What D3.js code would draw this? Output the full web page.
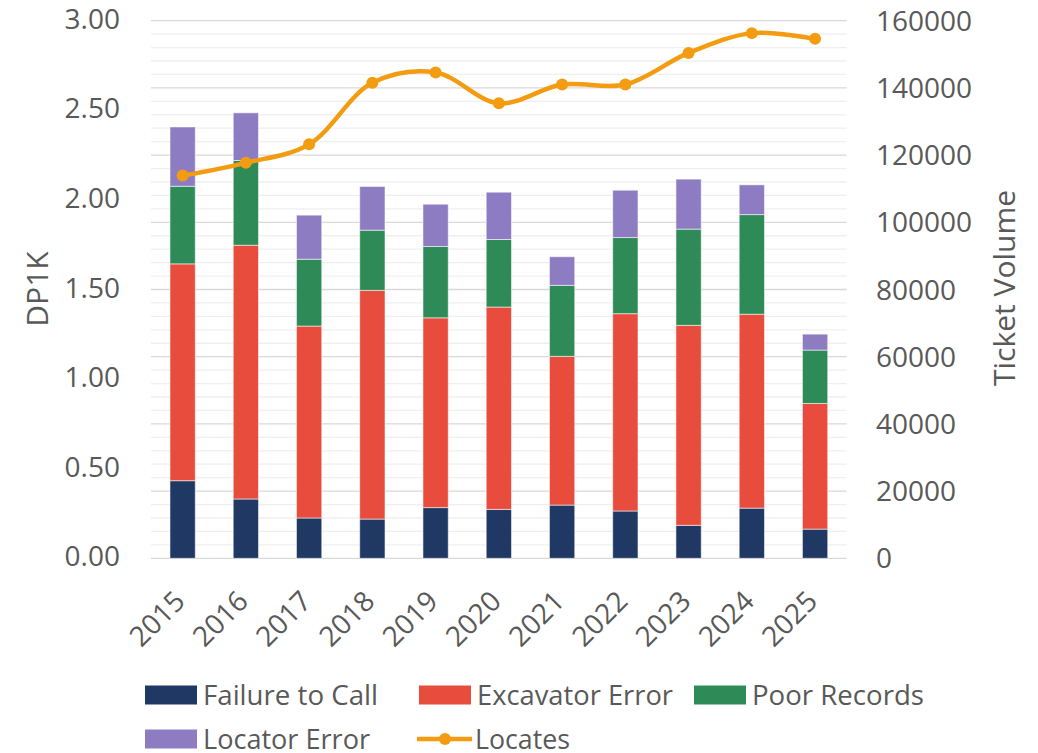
<!DOCTYPE html>
<html>
<head>
<meta charset="utf-8">
<script src="https://cdn.jsdelivr.net/npm/d3@7"></script>
<style>
  body { margin: 0; background: #fff; }
  svg text { font-family: "Open Sans", sans-serif; fill: #595959; }
</style>
</head>
<body>
<svg id="chart" width="1038" height="753"></svg>
<script>
let years = ['2015', '2016', '2017', '2018', '2019', '2020', '2021', '2022', '2023', '2024', '2025']

let failureToCall = [0.433, 0.331, 0.225, 0.219, 0.283, 0.273, 0.297, 0.264, 0.184, 0.280, 0.163]
let excavatorError = [1.210, 1.416, 1.071, 1.276, 1.059, 1.129, 0.830, 1.101, 1.116, 1.082, 0.701]
let poorRecords = [0.433, 0.473, 0.373, 0.336, 0.398, 0.377, 0.396, 0.425, 0.537, 0.556, 0.298]
let locatorError = [0.331, 0.266, 0.246, 0.244, 0.236, 0.264, 0.160, 0.264, 0.279, 0.166, 0.089]

let locates = [113900, 117700, 123200, 141500, 144600, 135400, 141000, 141000, 150400, 156300, 154600]

let seriesNames = ['Failure to Call', 'Excavator Error', 'Poor Records', 'Locator Error']
let seriesColors = ['#203864', '#e74c3c', '#2e8b57', '#8e7cc3']
let lineName = 'Locates'
let lineColor = '#f39c12'

let leftTicks = [0, 0.5, 1, 1.5, 2, 2.5, 3]
let rightTicks = [0, 20000, 40000, 60000, 80000, 100000, 120000, 140000, 160000]

let svg = d3.select('#chart')

let plotLeft = 151, plotRight = 846.7, plotTop = 20.7, plotBottom = 558.3

let xScale = d3.scaleBand()
    .domain(years)
    .range([plotLeft, plotRight])
    .paddingInner(0.6)
    .paddingOuter(0.3)

let yLeft = d3.scaleLinear().domain([0, 3]).range([plotBottom, plotTop])
let yRight = d3.scaleLinear().domain([0, 160000]).range([plotBottom, plotTop])

// gridlines (minor every 4000, major every 20000 on the right axis)
let minor = d3.range(0, 160001, 4000).filter(v => v % 20000 !== 0)
svg.append('g').selectAll('line')
    .data(minor)
    .enter()
    .append('line')
    .attr('x1', plotLeft).attr('x2', plotRight)
    .attr('y1', d => yRight(d)).attr('y2', d => yRight(d))
    .attr('stroke', '#efefef')
    .attr('stroke-width', 1.3)

svg.append('g').selectAll('line')
    .data(rightTicks)
    .enter()
    .append('line')
    .attr('x1', plotLeft).attr('x2', plotRight)
    .attr('y1', d => yRight(d)).attr('y2', d => yRight(d))
    .attr('stroke', '#d9d9d9')
    .attr('stroke-width', 1.3)

// stacked bars
let table = years.map((year, i) => ({
    year: year,
    'Failure to Call': failureToCall[i],
    'Excavator Error': excavatorError[i],
    'Poor Records': poorRecords[i],
    'Locator Error': locatorError[i]
}))

let stacked = d3.stack().keys(seriesNames)(table)

svg.append('g').selectAll('g')
    .data(stacked)
    .enter()
    .append('g')
    .attr('fill', (d, i) => seriesColors[i])
    .selectAll('rect')
    .data(d => d)
    .enter()
    .append('rect')
    .attr('x', d => xScale(d.data.year))
    .attr('width', xScale.bandwidth())
    .attr('y', d => yLeft(d[1]))
    .attr('height', d => yLeft(d[0]) - yLeft(d[1]))
    .attr('stroke', 'rgba(255,255,255,0.55)')
    .attr('stroke-width', 1)

// locates line
let line = d3.line()
    .x((d, i) => xScale(years[i]) + xScale.bandwidth() / 2)
    .y(d => yRight(d))
    .curve(d3.curveCatmullRom.alpha(0.5))

svg.append('path')
    .datum(locates)
    .attr('d', line)
    .attr('fill', 'none')
    .attr('stroke', lineColor)
    .attr('stroke-width', 4.5)
    .attr('stroke-linecap', 'round')

svg.append('g').selectAll('circle')
    .data(locates)
    .enter()
    .append('circle')
    .attr('cx', (d, i) => xScale(years[i]) + xScale.bandwidth() / 2)
    .attr('cy', d => yRight(d))
    .attr('r', 6)
    .attr('fill', lineColor)

// left axis labels
svg.append('g').selectAll('text')
    .data(leftTicks)
    .enter()
    .append('text')
    .attr('x', 120)
    .attr('y', d => yLeft(d) + 8)
    .attr('text-anchor', 'end')
    .style('font-size', '28px')
    .text(d => d3.format('.2f')(d))

// right axis labels
svg.append('g').selectAll('text')
    .data(rightTicks)
    .enter()
    .append('text')
    .attr('x', 876)
    .attr('y', d => yRight(d) + 10)
    .attr('text-anchor', 'start')
    .style('font-size', '28px')
    .text(d => d)

// x labels
svg.append('g').selectAll('text')
    .data(years)
    .enter()
    .append('text')
    .attr('transform', d => 'translate(' + (xScale(d) + xScale.bandwidth() / 2 + 4) + ',603) rotate(-45)')
    .attr('text-anchor', 'end')
    .style('font-size', '28px')
    .text(d => d)

// axis titles
svg.append('text')
    .attr('transform', 'translate(48,289) rotate(-90)')
    .attr('text-anchor', 'middle')
    .style('font-size', '30px')
    .text('DP1K')

svg.append('text')
    .attr('transform', 'translate(1015,288) rotate(-90)')
    .attr('text-anchor', 'middle')
    .style('font-size', '30px')
    .text('Ticket Volume')

// legend
let legendItems = [
    { name: seriesNames[0], color: seriesColors[0], x: 145, row: 0, w: 175 },
    { name: seriesNames[1], color: seriesColors[1], x: 419, row: 0, w: 196 },
    { name: seriesNames[2], color: seriesColors[2], x: 694, row: 0, w: 172 },
    { name: seriesNames[3], color: seriesColors[3], x: 145, row: 1, w: 167 },
    { name: lineName, color: lineColor, x: 417, row: 1, w: 95, isLine: true }
]
let rowY = [695, 739]

let legend = svg.append('g')
legendItems.forEach(item => {
    let cy = rowY[item.row]
    if (item.isLine) {
        legend.append('line')
            .attr('x1', item.x).attr('x2', item.x + 55)
            .attr('y1', cy).attr('y2', cy)
            .attr('stroke', item.color)
            .attr('stroke-width', 4.5)
        legend.append('circle')
            .attr('cx', item.x + 28).attr('cy', cy)
            .attr('r', 6)
            .attr('fill', item.color)
    } else {
        legend.append('rect')
            .attr('x', item.x).attr('y', cy - 9.5)
            .attr('width', 52).attr('height', 19)
            .attr('fill', item.color)
    }
    legend.append('text')
        .attr('x', item.x + 58)
        .attr('y', cy + 10)
        .attr('textLength', item.w)
        .attr('lengthAdjust', 'spacingAndGlyphs')
        .style('font-size', '27px')
        .text(item.name)
})
</script>
</body>
</html>
